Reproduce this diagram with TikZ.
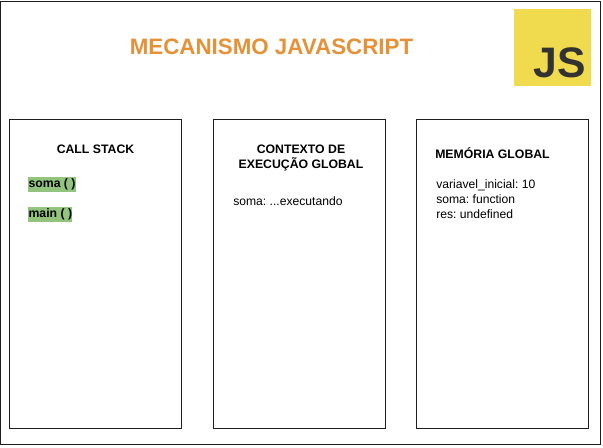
\documentclass[tikz,border=0pt]{standalone}
\usepackage{fontspec}
\setmainfont{Liberation Sans}
\frenchspacing
\definecolor{titulocor}{RGB}{230,145,56}
\definecolor{logocor}{RGB}{240,219,79}
\definecolor{jscor}{RGB}{50,51,48}
\definecolor{verdecor}{RGB}{147,196,125}
\definecolor{linhacor}{RGB}{30,30,30}
\tikzset{
  caixa/.style={draw=linhacor,line width=0.75pt},
  titulo/.style={inner sep=0.75pt,font=\fontsize{9.2}{11.25}\selectfont\bfseries,align=center},
  texto/.style={anchor=north west,inner sep=0pt,font=\fontsize{9.1}{11.25}\selectfont,align=left},
  pilha/.style={anchor=west,fill=verdecor,inner xsep=0.2pt,minimum height=11.25pt,inner ysep=0pt,font=\fontsize{9.2}{11}\selectfont\bfseries},
}
\begin{document}
\begin{tikzpicture}[x=0.75pt,y=0.75pt,yscale=-1,xscale=1]
            \useasboundingbox (0,0) rectangle (603,448);

            %Shape: Rectangle
            \draw [caixa] (0.5,1.5) rectangle (600.5,445);
            \draw [caixa] (9.5,119.5) rectangle (181.5,428.5);
            \draw [caixa] (213.5,119.5) rectangle (385.5,428.5);
            \draw [caixa] (416.5,119.5) rectangle (588.5,428.5);
            %Shape: Logo
            \fill [logocor] (514,9) rectangle (591,86);

            % Text Node
            \node (mecanismo) at (271.5,47) [inner sep=0.75pt,text=titulocor,font=\fontsize{16.75}{18}\selectfont\bfseries] {MECANISMO JAVASCRIPT};
            % Text Node
            \node (js) at (560,62.5) [inner sep=0pt,text=jscor,font=\fontsize{32}{34}\selectfont\bfseries] {JS};
            % Text Node
            \node (callstack) at (95.5,149) [titulo] {CALL STACK};
            % Text Node
            \node (contexto) at (301,158) [titulo] {CONTEXTO DE\\EXECUÇÃO GLOBAL};
            % Text Node
            \node (memoria) at (492.5,153.5) [titulo] {MEMÓRIA GLOBAL};
            % Text Node
            \node (soma) at (28,184.5) [pilha] {soma ( )};
            % Text Node
            \node (main) at (28,214.5) [pilha] {main ( )};
            % Text Node
            \node (executando) at (233,196) [texto] {soma: ...executando};
            % Text Node
            \node (variaveis) at (436,179.5) [texto] {variavel\_inicial: 10\\soma: function\\res: undefined};

\end{tikzpicture}
\end{document}
